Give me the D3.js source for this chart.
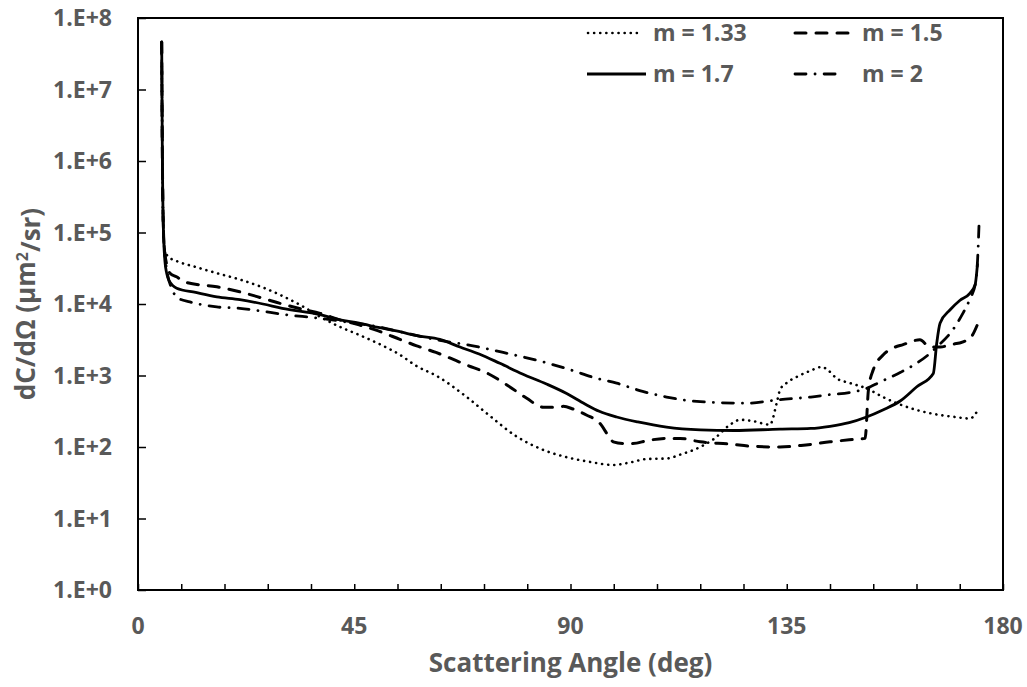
<!DOCTYPE html>
<html>
<head>
<meta charset="utf-8">
<script src="https://cdn.jsdelivr.net/npm/d3@7"></script>
<style>
  html, body { margin: 0; padding: 0; background: #fff; }
  svg { display: block; }
  text { font-family: "Open Sans", "Noto Sans", sans-serif; font-weight: bold; fill: #595959; }
</style>
</head>
<body>
<svg id="chart" width="1027" height="687"></svg>
<script>
// Differential scattering cross-section vs scattering angle, one series per refractive index m.
// Each series is a list of [angle (deg), dC/dΩ (µm²/sr)].
const seriesLabels = ["m = 1.33", "m = 1.5", "m = 1.7", "m = 2"];

const forwardPeak = [[4.93, 4.6e7], [5.05, 1.8e6], [5.27, 1.2e5]];

const m133 = forwardPeak.concat([
  [5.6, 5.6e4], [6.3, 4.6e4], [8, 4.0e4], [12, 3.3e4], [16.4, 2.7e4], [21.2, 2.2e4],
  [26, 1.7e4], [30, 1.3e4], [34, 9.5e3], [37.9, 6.6e3], [42, 4.8e3], [46, 3.7e3],
  [50, 2.8e3], [54.5, 1.95e3], [58, 1.35e3], [62, 1.0e3], [68.4, 500], [73, 280],
  [78.8, 140], [84, 93], [89.2, 72], [94, 62], [98.9, 56], [102, 60], [106, 68],
  [110, 69], [113, 79], [117, 100], [120, 132], [123, 200], [125.3, 240], [128, 230],
  [131.5, 205], [132.9, 410], [133.6, 630], [135, 790], [137, 950], [140, 1170],
  [142.3, 1320], [143.5, 1200], [145.4, 910], [148, 790], [151.6, 660], [155, 500],
  [157.9, 410], [162, 330], [166.9, 280], [170, 263], [173.1, 250], [174.8, 330]
]);

const m150 = forwardPeak.concat([
  [5.6, 5.0e4], [6.66, 2.7e4], [8, 2.4e4], [10.1, 2.0e4], [16.4, 1.74e4], [21.2, 1.48e4],
  [26, 1.2e4], [30, 1.0e4], [34, 8.5e3], [37.9, 7.4e3], [42, 6.0e3], [46, 5.1e3],
  [50, 4.2e3], [54.5, 3.2e3], [58, 2.6e3], [62, 2.1e3], [68.4, 1.4e3], [73, 1.05e3],
  [77, 720], [80.9, 480], [84.3, 360], [86.5, 360], [88.5, 370], [90.5, 340],
  [93.3, 280], [96.1, 215], [98, 140], [98.9, 118], [101, 112], [103, 112], [106, 123],
  [110, 132], [112.8, 132], [117, 118], [123.2, 110], [128, 102], [133.6, 100],
  [139, 107], [144, 118], [148, 126], [151.3, 132], [152, 630], [153, 1200],
  [155.1, 1950], [157, 2400], [159.2, 2700], [162.7, 3160], [164.8, 2500], [167, 2500],
  [169, 2700], [171.7, 2950], [173.5, 3550], [174.6, 5000]
]);

const m170 = forwardPeak.concat([
  [5.6, 4.0e4], [5.97, 2.7e4], [6.5, 2.1e4], [8.05, 1.66e4], [12, 1.45e4], [16.4, 1.26e4],
  [21.2, 1.15e4], [26, 1.0e4], [30, 8.7e3], [37.9, 7.1e3], [42, 6.0e3], [46, 5.4e3],
  [50, 4.7e3], [54.5, 4.1e3], [58, 3.6e3], [62.8, 3.2e3], [67, 2.5e3], [71, 2.0e3],
  [75.3, 1.48e3], [80, 1.05e3], [85, 760], [89.2, 560], [93, 400], [96, 316],
  [99.6, 263], [104, 224], [110, 190], [117, 174], [124, 170], [133.6, 178], [140, 182],
  [144, 195], [148, 219], [151.6, 263], [155, 330], [158.6, 440], [162, 690],
  [165.5, 1070], [166.2, 2800], [166.9, 5400], [169, 8300], [171, 1.12e4],
  [173.1, 1.41e4], [174.2, 1.86e4], [174.7, 3.7e4]
]);

const m200 = forwardPeak.concat([
  [5.6, 5.0e4], [6.2, 2.5e4], [7.0, 1.66e4], [8.4, 1.2e4], [10.8, 1.07e4], [16.4, 9.1e3],
  [21.2, 8.7e3], [26, 7.9e3], [30, 7.2e3], [37.9, 6.3e3], [43.4, 5.6e3], [50, 4.8e3],
  [54.5, 4.1e3], [62.8, 3.1e3], [68.4, 2.7e3], [76, 2.1e3], [84.3, 1.55e3], [90, 1.2e3],
  [95, 930], [99.6, 780], [105, 600], [110, 500], [117, 430], [126.7, 410], [133.6, 460],
  [140, 500], [144, 540], [148, 575], [151.6, 660], [154.4, 810], [158.6, 1100],
  [162, 1480], [164.8, 2040], [166.2, 2500], [169.6, 4400], [171.5, 7100],
  [173.1, 1.17e4], [174.3, 2.0e4], [174.7, 4.0e4], [175, 1.23e5]
]);

const xTickValues = [0, 45, 90, 135, 180];
const xMinorStep = 9;
const yTickExponents = [0, 1, 2, 3, 4, 5, 6, 7, 8];

const xTitle = "Scattering Angle (deg)";

// ---- layout ----
const W = 1027, H = 687;
const margin = { left: 138, right: 24, top: 18, bottom: 97 };
const plotW = W - margin.left - margin.right;
const plotH = H - margin.top - margin.bottom;

const svg = d3.select("#chart");

const x = d3.scaleLinear().domain([0, 180]).range([margin.left, margin.left + plotW]);
const y = d3.scaleLog().domain([1, 1e8]).range([margin.top + plotH, margin.top]);

// clip curves to the plotting area
svg.append("defs").append("clipPath").attr("id", "plotClip")
  .append("rect")
  .attr("x", margin.left).attr("y", margin.top)
  .attr("width", plotW).attr("height", plotH);

// ---- ticks (inside) ----
const xMinor = d3.range(0, 180 + 0.001, xMinorStep);
const xAxis = d3.axisBottom(x).tickValues(xMinor).tickSize(-6).tickFormat("");
svg.append("g")
  .attr("transform", `translate(0,${margin.top + plotH})`)
  .call(xAxis)
  .call(g => g.select(".domain").remove())
  .call(g => g.selectAll("line").attr("stroke", "#000").attr("stroke-width", 1.5));

const yAxis = d3.axisLeft(y).tickValues(yTickExponents.map(e => Math.pow(10, e)))
  .tickSize(-8).tickFormat("");
svg.append("g")
  .attr("transform", `translate(${margin.left},0)`)
  .call(yAxis)
  .call(g => g.select(".domain").remove())
  .call(g => g.selectAll("line").attr("stroke", "#000").attr("stroke-width", 1.5));

// tick labels
svg.append("g").selectAll("text")
  .data(xTickValues).join("text")
  .attr("x", d => x(d)).attr("y", 634)
  .attr("text-anchor", "middle")
  .style("font-size", "23px")
  .text(d => d);

svg.append("g").selectAll("text")
  .data(yTickExponents).join("text")
  .attr("x", 112).attr("y", d => y(Math.pow(10, d)))
  .attr("dy", "0.36em")
  .attr("text-anchor", "end")
  .style("font-size", "23px")
  .text(d => "1.E+" + d);

// ---- frame ----
svg.append("rect")
  .attr("x", margin.left).attr("y", margin.top)
  .attr("width", plotW).attr("height", plotH)
  .attr("fill", "none").attr("stroke", "#000").attr("stroke-width", 2);

// ---- curves ----
const line = d3.line()
  .x(d => x(d[0]))
  .y(d => y(d[1]))
  .curve(d3.curveMonotoneX);

const styles = [
  { data: m133, dash: "0.1 6", width: 2.6 },
  { data: m150, dash: "11 10", width: 3 },
  { data: m170, dash: null, width: 2.8 },
  { data: m200, dash: "11 9 0.1 9", width: 2.8 }
];

const curves = svg.append("g").attr("clip-path", "url(#plotClip)");
curves.selectAll("path")
  .data(styles).join("path")
  .attr("d", d => line(d.data))
  .attr("fill", "none")
  .attr("stroke", "#000")
  .attr("stroke-width", d => d.width)
  .attr("stroke-linecap", d => d.dash ? "round" : "butt")
  .attr("stroke-linejoin", "round")
  .attr("stroke-dasharray", d => d.dash);

// ---- legend ----
const legendItems = [
  { label: seriesLabels[0], s: styles[0], x0: 588, x1: 638, tx: 653, ty: 41 },
  { label: seriesLabels[1], s: styles[1], x0: 795, x1: 852, tx: 862, ty: 41 },
  { label: seriesLabels[2], s: styles[2], x0: 587, x1: 646, tx: 653, ty: 82 },
  { label: seriesLabels[3], s: styles[3], x0: 795, x1: 838, tx: 862, ty: 82 }
];
const legend = svg.append("g");
legendItems.forEach(it => {
  legend.append("line")
    .attr("x1", it.x0).attr("x2", it.x1)
    .attr("y1", it.ty - 8).attr("y2", it.ty - 8)
    .attr("stroke", "#000")
    .attr("stroke-width", it.s.width)
    .attr("stroke-linecap", it.s.dash ? "round" : "butt")
    .attr("stroke-dasharray", it.s.dash);
  legend.append("text")
    .attr("x", it.tx).attr("y", it.ty)
    .style("font-size", "23px")
    .text(it.label);
});

// ---- axis titles ----
svg.append("text")
  .attr("x", margin.left + plotW / 2).attr("y", 672)
  .attr("text-anchor", "middle")
  .style("font-size", "26px")
  .text(xTitle);

const yTitle = svg.append("text")
  .attr("transform", "translate(35,304) rotate(-90)")
  .attr("text-anchor", "middle")
  .style("font-size", "26px");
yTitle.append("tspan").text("dC/dΩ (μm");
yTitle.append("tspan").attr("dy", "-0.45em").style("font-size", "16px").text("2");
yTitle.append("tspan").attr("dy", "0.45em").text("/sr)");
</script>
</body>
</html>
